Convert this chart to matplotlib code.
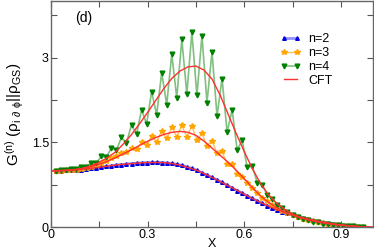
import matplotlib
matplotlib.use('Agg')
import matplotlib.pyplot as plt
import numpy as np

plt.rcParams['font.family'] = ['Liberation Sans', 'DejaVu Sans']
plt.rcParams['mathtext.default'] = 'regular'

# lattice sites x = i/L, L = 64
L = 64
sites = list(range(1, 63))

g_n2 = [1.000, 1.001, 1.004, 1.008, 1.014, 1.021, 1.030, 1.040, 1.052, 1.064,
        1.076, 1.088, 1.099, 1.109, 1.118, 1.126, 1.133, 1.139, 1.143, 1.146,
        1.147, 1.145, 1.138, 1.128, 1.113, 1.095, 1.070, 1.040, 1.005, 0.965,
        0.925, 0.882, 0.838, 0.793, 0.745, 0.697, 0.650, 0.603, 0.556, 0.510,
        0.466, 0.424, 0.383, 0.345, 0.309, 0.276, 0.245, 0.216, 0.189, 0.165,
        0.143, 0.123, 0.105, 0.089, 0.074, 0.061, 0.049, 0.039, 0.030, 0.022,
        0.015, 0.009]

g_n3 = [1.000, 1.002, 1.006, 1.012, 1.020, 1.032, 1.050, 1.070, 1.100, 1.130,
        1.170, 1.230, 1.260, 1.320, 1.330, 1.400, 1.390, 1.500, 1.450, 1.610,
        1.510, 1.700, 1.570, 1.770, 1.600, 1.800, 1.600, 1.790, 1.540, 1.660,
        1.440, 1.530, 1.310, 1.340, 1.120, 1.120, 0.950, 0.890, 0.790, 0.690,
        0.610, 0.520, 0.460, 0.395, 0.345, 0.295, 0.255, 0.215, 0.185, 0.155,
        0.130, 0.108, 0.090, 0.074, 0.060, 0.048, 0.038, 0.029, 0.022, 0.016,
        0.011, 0.007]

g_n4 = [1.000, 1.006, 1.008, 1.025, 1.030, 1.070, 1.070, 1.140, 1.140, 1.255,
        1.240, 1.405, 1.360, 1.590, 1.490, 1.815, 1.645, 2.080, 1.825, 2.400,
        1.990, 2.730, 2.170, 3.060, 2.290, 3.320, 2.360, 3.450, 2.330, 3.390,
        2.205, 3.100, 1.970, 2.630, 1.680, 2.075, 1.370, 1.540, 1.060, 1.080,
        0.790, 0.750, 0.570, 0.500, 0.400, 0.335, 0.275, 0.225, 0.185, 0.150,
        0.125, 0.100, 0.085, 0.065, 0.055, 0.042, 0.036, 0.026, 0.022, 0.015,
        0.012, 0.007]

# CFT curves sampled every 0.025
x_cft = [i / 40 for i in range(41)]
cft_n2 = [1.000, 1.001, 1.005, 1.014, 1.028, 1.043, 1.060, 1.081, 1.100, 1.115,
          1.126, 1.137, 1.144, 1.146, 1.143, 1.128, 1.100, 1.060, 1.012, 0.950,
          0.882, 0.810, 0.735, 0.660, 0.585, 0.510, 0.440, 0.375, 0.315, 0.262,
          0.216, 0.178, 0.146, 0.114, 0.085, 0.062, 0.043, 0.028, 0.017, 0.008,
          0.000]
cft_n3 = [1.000, 1.001, 1.006, 1.018, 1.040, 1.073, 1.115, 1.168, 1.230, 1.298,
          1.370, 1.446, 1.520, 1.586, 1.640, 1.678, 1.695, 1.680, 1.625, 1.525,
          1.400, 1.275, 1.150, 1.010, 0.860, 0.705, 0.560, 0.445, 0.350, 0.275,
          0.215, 0.168, 0.130, 0.102, 0.080, 0.058, 0.040, 0.026, 0.015, 0.006,
          0.000]
cft_n4 = [1.000, 1.002, 1.008, 1.022, 1.045, 1.090, 1.150, 1.230, 1.330, 1.475,
          1.640, 1.830, 2.030, 2.240, 2.450, 2.630, 2.760, 2.835, 2.850, 2.780,
          2.620, 2.340, 2.000, 1.660, 1.340, 1.040, 0.780, 0.580, 0.430, 0.320,
          0.235, 0.175, 0.130, 0.098, 0.072, 0.052, 0.036, 0.024, 0.014, 0.006,
          0.000]

x = np.array(sites) / L

fig = plt.figure(figsize=(3.74, 2.52), dpi=100)
ax = fig.add_axes([51/374, 1 - 227.3/252, 322/374, 226.3/252])

ax.plot(x, g_n2, color='#9090ff', lw=2.0, marker='^', ms=2.6,
        mfc='#0000e0', mec='#0000e0', label='n=2')
ax.plot(x, g_n3, color='#ffc060', lw=1.0, marker='*', ms=4.2,
        mfc='#ffa500', mec='#ffa500', label='n=3')
ax.plot(x, g_n4, color='#80c080', lw=1.2, marker='v', ms=3.4,
        mfc='#008000', mec='#008000', label='n=4')
ax.plot(x_cft, cft_n2, color='#ff3030', lw=1.0, label='CFT')
ax.plot(x_cft, cft_n3, color='#ff3030', lw=1.0)
ax.plot(x_cft, cft_n4, color='#ff3030', lw=1.0)

ax.set_xlim(0, 1)
ax.set_ylim(0, 4)
ax.set_xticks([0, 0.3, 0.6, 0.9])
ax.set_xticklabels(['0', '0.3', '0.6', '0.9'])
ax.set_xticks([0.15, 0.45, 0.75], minor=True)
ax.set_yticks([0, 1.5, 3])
ax.set_yticklabels(['0', '1.5', '3'])
ax.set_yticks([0.75, 2.25, 3.75], minor=True)
ax.tick_params(which='both', direction='in', top=True, right=True,
               length=4, width=0.8, color='#555555', labelsize=9, pad=1.5)

for s in ax.spines.values():
    s.set_color('#666666')
    s.set_linewidth(1.0)

ax.set_xlabel('X', fontsize=9, labelpad=-2.5)
ax.set_ylabel(r'G$^{(n)}$ ($\rho_{i\ \partial\ \phi}$||$\rho_{GS}$)', fontsize=11, labelpad=4)
ax.text(0.075, 3.62, '(d)', fontsize=10)

ax.legend(loc='upper left', bbox_to_anchor=(0.695, 0.88), frameon=False,
          fontsize=9, numpoints=2, handlelength=1.7, handletextpad=0.6,
          labelspacing=0.15, borderaxespad=0)

fig.savefig('out.png', dpi=100)
